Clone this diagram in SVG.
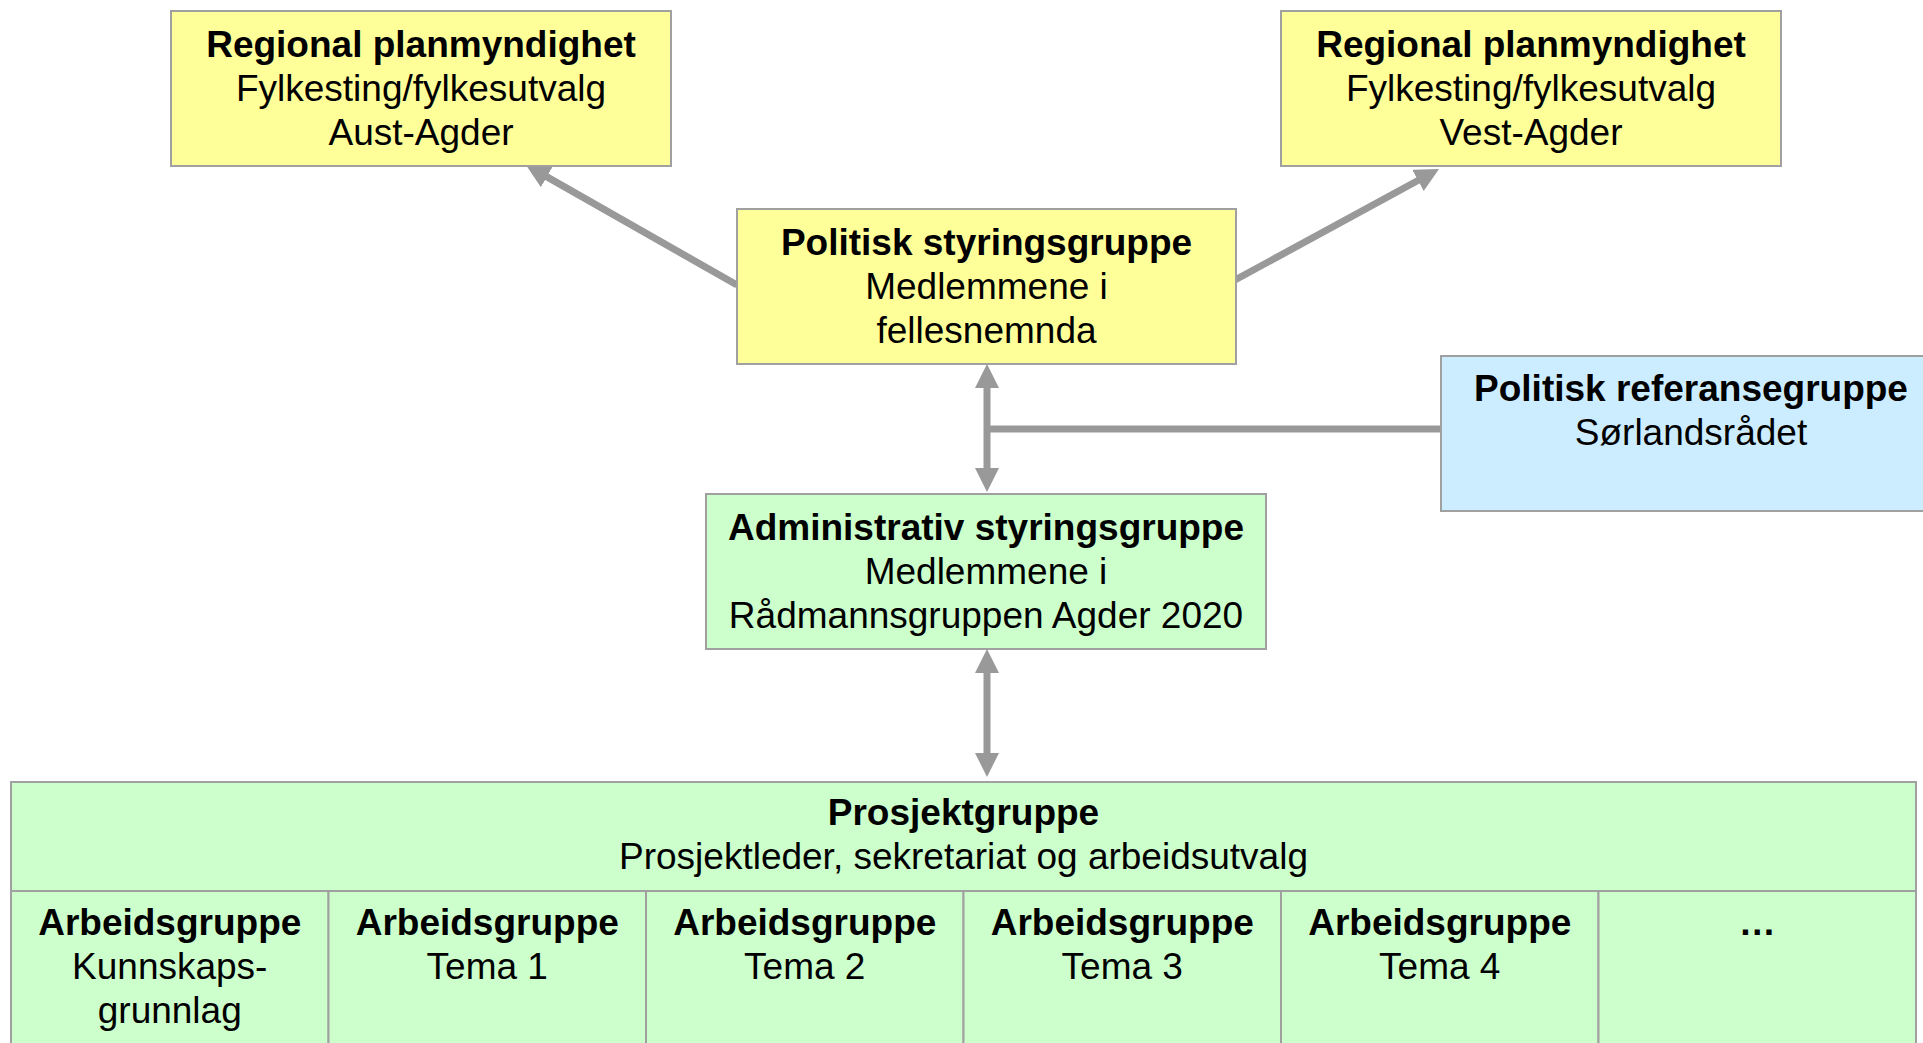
<svg xmlns="http://www.w3.org/2000/svg" width="1923" height="1043" viewBox="0 0 1923 1043">
<style>
.box{stroke:#A0A0A0;stroke-width:2}
.y{fill:#FFFF99}
.g{fill:#CCFFCC}
.b{fill:#CCECFF}
text{font-family:"Liberation Sans",Arial,sans-serif;font-size:37px;fill:#000;text-anchor:middle}
.t{font-weight:bold}
.c{fill:none;stroke:#999999;stroke-width:7}
</style>
<defs>
<marker id="ah" markerUnits="userSpaceOnUse" markerWidth="24" markerHeight="24" viewBox="0 0 24 24" refX="12" refY="12" orient="auto-start-reverse">
<path d="M0,0 L24,12 L0,24 z" fill="#999999"/>
</marker>
</defs>
<rect width="1923" height="1043" fill="#FFFFFF"/>
<g id="connectors">
<line class="c" x1="737" y1="285" x2="536.4" y2="170.9" marker-end="url(#ah)"/>
<line class="c" x1="1235" y1="280" x2="1428.5" y2="174.7" marker-end="url(#ah)"/>
<line class="c" x1="987" y1="376" x2="987" y2="480" marker-start="url(#ah)" marker-end="url(#ah)"/>
<line class="c" x1="987" y1="429" x2="1441" y2="429"/>
<line class="c" x1="987" y1="661" x2="987" y2="765" marker-start="url(#ah)" marker-end="url(#ah)"/>
</g>
<g id="regional-aust">
<rect class="box y" x="171" y="11" width="500" height="155"/>
<text x="421" y="57" class="t">Regional planmyndighet</text>
<text x="421" y="101">Fylkesting/fylkesutvalg</text>
<text x="421" y="145">Aust-Agder</text>
</g>
<g id="regional-vest">
<rect class="box y" x="1281" y="11" width="500" height="155"/>
<text x="1531" y="57" class="t">Regional planmyndighet</text>
<text x="1531" y="101">Fylkesting/fylkesutvalg</text>
<text x="1531" y="145">Vest-Agder</text>
</g>
<g id="politisk-styringsgruppe">
<rect class="box y" x="737" y="209" width="499" height="155"/>
<text x="986.5" y="255" class="t">Politisk styringsgruppe</text>
<text x="986.5" y="299">Medlemmene i</text>
<text x="986.5" y="343">fellesnemnda</text>
</g>
<g id="politisk-referansegruppe">
<rect class="box b" x="1441" y="356" width="500" height="155"/>
<text x="1691" y="401" class="t">Politisk referansegruppe</text>
<text x="1691" y="445">Sørlandsrådet</text>
</g>
<g id="administrativ-styringsgruppe">
<rect class="box g" x="706" y="494" width="560" height="155"/>
<text x="986" y="540" class="t">Administrativ styringsgruppe</text>
<text x="986" y="584">Medlemmene i</text>
<text x="986" y="628">Rådmannsgruppen Agder 2020</text>
</g>
<g id="prosjektgruppe">
<rect class="box g" x="11" y="782" width="1905" height="109"/>
<text x="963.5" y="825" class="t">Prosjektgruppe</text>
<text x="963.5" y="869">Prosjektleder, sekretariat og arbeidsutvalg</text>
</g>
<g id="ag-kunnskap">
<rect class="box g" x="11" y="891" width="317.5" height="170"/>
<text x="169.75" y="935" class="t">Arbeidsgruppe</text>
<text x="169.75" y="979">Kunnskaps-</text>
<text x="169.75" y="1023">grunnlag</text>
</g>
<g id="ag-tema1">
<rect class="box g" x="328.5" y="891" width="317.5" height="170"/>
<text x="487.25" y="935" class="t">Arbeidsgruppe</text>
<text x="487.25" y="979">Tema 1</text>
</g>
<g id="ag-tema2">
<rect class="box g" x="646" y="891" width="317.5" height="170"/>
<text x="804.75" y="935" class="t">Arbeidsgruppe</text>
<text x="804.75" y="979">Tema 2</text>
</g>
<g id="ag-tema3">
<rect class="box g" x="963.5" y="891" width="317.5" height="170"/>
<text x="1122.25" y="935" class="t">Arbeidsgruppe</text>
<text x="1122.25" y="979">Tema 3</text>
</g>
<g id="ag-tema4">
<rect class="box g" x="1281" y="891" width="317.5" height="170"/>
<text x="1439.75" y="935" class="t">Arbeidsgruppe</text>
<text x="1439.75" y="979">Tema 4</text>
</g>
<g id="ag-more">
<rect class="box g" x="1598.5" y="891" width="317.5" height="170"/>
<text x="1757.25" y="935" class="t">…</text>
</g>
</svg>
